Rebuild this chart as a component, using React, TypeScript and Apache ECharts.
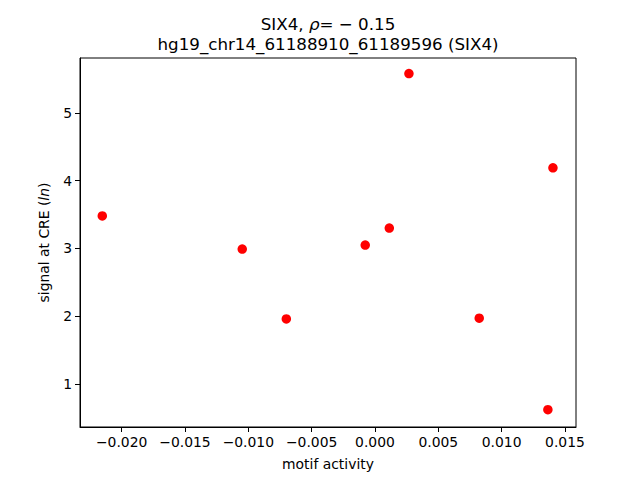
import React, { useEffect, useRef } from "react";
import * as echarts from "echarts";

const motifActivity = [-0.02153, -0.01048, -0.0070, -0.00077, 0.00113, 0.00268, 0.00823, 0.01405, 0.01365];
const signal = [3.48, 2.99, 1.96, 3.05, 3.30, 5.58, 1.97, 4.19, 0.62];
const xTicks = [-0.02, -0.015, -0.01, -0.005, 0, 0.005, 0.01, 0.015];
const yTicks = [1, 2, 3, 4, 5];
const titleLine1 = "SIX4, ";
const titleRho = "ρ";
const titleRest = "= − 0.15";
const titleLine2 = "hg19_chr14_61188910_61189596 (SIX4)";

const FONT = "DejaVu Sans";

function fmtX(v: number): string {
  const s = Math.abs(v).toFixed(3);
  return v < -1e-12 ? "\u2212" + s : s;
}

export default function App() {
  const ref = useRef<HTMLDivElement>(null);
  useEffect(() => {
    if (!ref.current) return;
    const chart = echarts.init(ref.current, null, { renderer: "svg" });
    const data = motifActivity.map((x, i) => [x, signal[i]]);
    chart.setOption({
      animation: false,
      backgroundColor: "#ffffff",
      textStyle: { fontFamily: FONT },
      title: {
        text: `{a|${titleLine1}}{r|${titleRho}}{a|${titleRest}}\n{a|${titleLine2}}`,
        left: 323,
        textAlign: "center",
        top: 9,
        textStyle: {
          fontWeight: "normal",
          rich: {
            a: { fontFamily: FONT, fontSize: 16.7, fontWeight: "normal", color: "#000", lineHeight: 20 },
            r: { fontFamily: FONT, fontSize: 16.7, fontWeight: "normal", color: "#000", fontStyle: "italic", lineHeight: 20 },
          },
        },
      },
      grid: { left: 80, top: 58, width: 496, height: 369, containLabel: false, show: false },
      xAxis: {
        type: "value",
        min: -0.02329,
        max: 0.01587,
        name: "motif activity",
        nameLocation: "middle",
        nameGap: 30,
        nameTextStyle: { fontFamily: FONT, fontSize: 13.9, color: "#000" },
        axisLine: { show: true, onZero: false, lineStyle: { color: "#000", width: 1 } },
        axisTick: { show: true, length: 5, lineStyle: { color: "#000" }, customValues: xTicks },
        axisLabel: {
          color: "#000",
          fontFamily: FONT,
          fontSize: 13.9,
          margin: 8,
          customValues: xTicks,
          formatter: (v: number) => fmtX(v),
          showMinLabel: true,
          showMaxLabel: true,
        },
        splitLine: { show: false },
      },
      yAxis: {
        type: "value",
        min: 0.365,
        max: 5.81,
        name: "signal at CRE ({i|ln})",
        nameLocation: "middle",
        nameGap: 29,
        nameRotate: 90,
        nameTextStyle: {
          fontFamily: FONT,
          fontSize: 13.9,
          color: "#000",
          rich: { i: { fontFamily: FONT, fontSize: 13.9, fontStyle: "italic", color: "#000" } },
        },
        axisLine: { show: true, onZero: false, lineStyle: { color: "#000", width: 1 } },
        axisTick: { show: true, length: 5, lineStyle: { color: "#000" }, customValues: yTicks },
        axisLabel: {
          color: "#000",
          fontFamily: FONT,
          fontSize: 13.9,
          margin: 8,
          customValues: yTicks,
          formatter: (v: number) => String(v),
        },
        splitLine: { show: false },
      },
      series: [
        {
          type: "scatter",
          data,
          symbol: "circle",
          symbolSize: 9.5,
          itemStyle: { color: "#ff0000", opacity: 1 },
        },
      ],
      graphic: [
        {
          type: "rect",
          shape: { x: 80, y: 58, width: 496, height: 369 },
          style: { fill: "none", stroke: "#000", lineWidth: 1 },
          silent: true,
          z: 100,
        },
      ],
    });
    return () => chart.dispose();
  }, []);
  return <div ref={ref} style={{ width: 640, height: 480, position: "absolute", left: 0, top: 0 }} />;
}
